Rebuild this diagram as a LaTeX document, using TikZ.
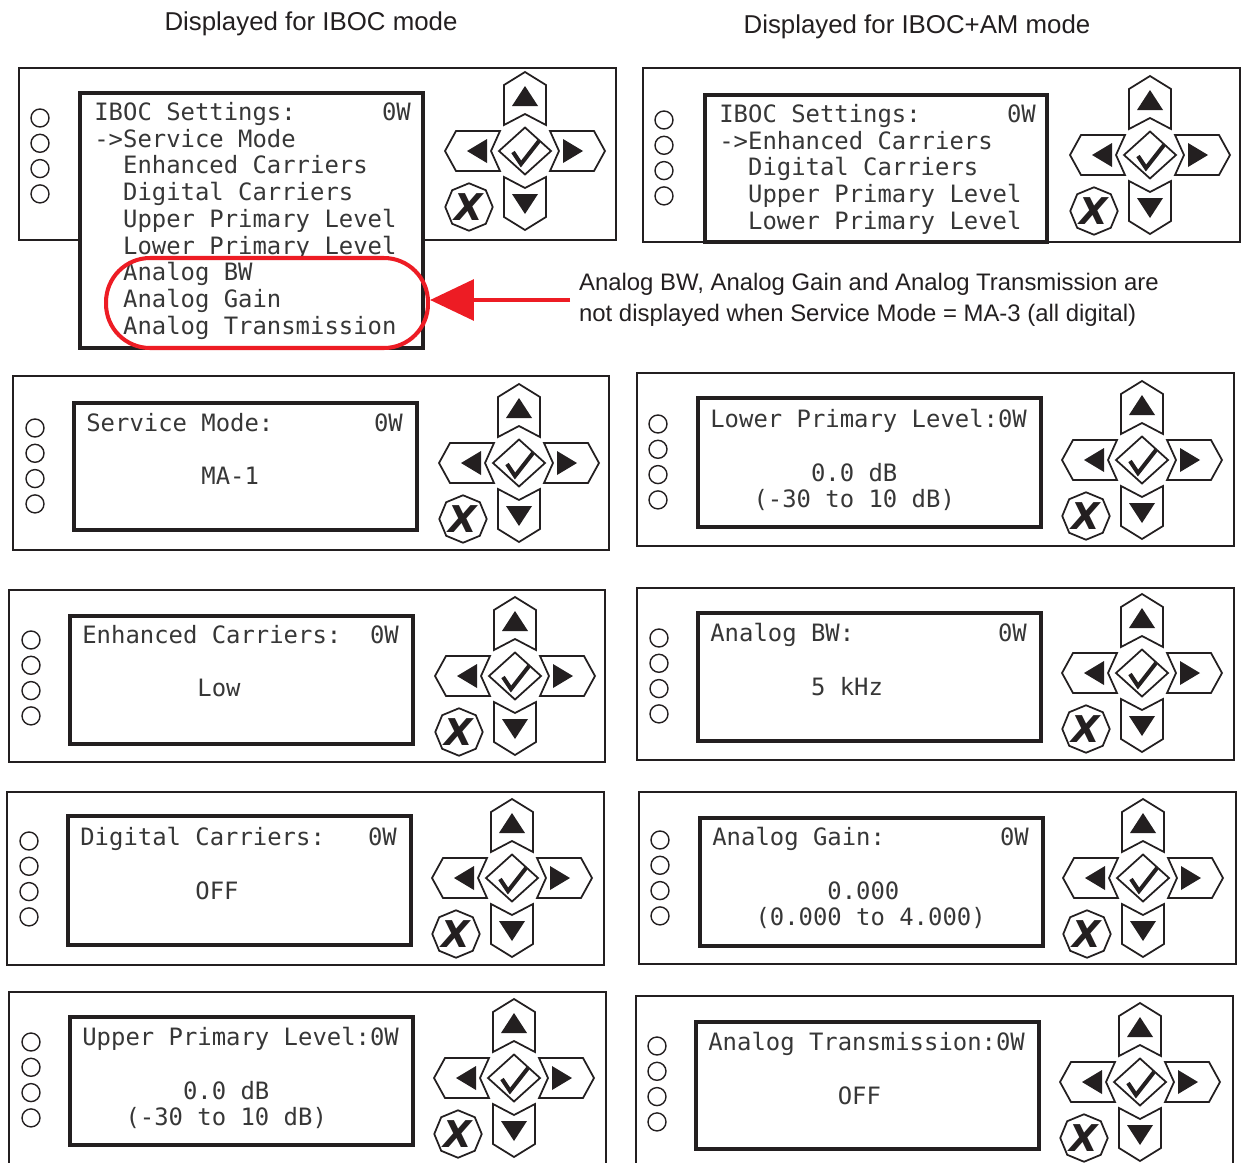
\documentclass[tikz,border=0pt]{standalone}
\usepackage{fontspec}
\setmainfont{Liberation Sans}
\newfontfamily\lcdfont{DejaVu Sans Mono}
\newfontfamily\keyfont{DejaVu Sans}
\usepackage{xcolor}
\usetikzlibrary{arrows.meta,positioning,shapes.geometric}

\definecolor{framegray}{RGB}{35,31,32}
\definecolor{lcdgray}{RGB}{55,55,55}
\definecolor{alertred}{RGB}{237,28,36}

\begin{document}
\begin{tikzpicture}[x=0.02cm, y=-0.02cm,
  panel/.style={draw=framegray, line width=1.6pt},
  lcd/.style={draw=framegray, line width=1.8pt, fill=white},
  led/.style={draw=framegray, line width=0.8pt},
  lcdtext/.style={anchor=north west, inner sep=0pt, align=left, text=lcdgray,
                  font=\lcdfont\fontsize{13.6}{15.2}\selectfont},
  heading/.style={text=framegray, font=\fontsize{14.7}{17}\selectfont},
  note/.style={anchor=west, align=left, inner sep=5pt, text=framegray,
               font=\fontsize{13.6}{18}\selectfont},
  hideoval/.style={draw=alertred, line width=2.3pt, rounded corners=0.88cm,
                   minimum width=6.44cm, minimum height=1.8cm},
  alertarrow/.style={draw=alertred, line width=2.8pt,
                     -{Triangle[length=25pt, width=23pt]}},
  keybtn/.style={draw=framegray, line width=1pt, fill=white, line join=miter},
  keytri/.style={fill=framegray},
  okcheck/.style={draw=framegray, line width=2.3pt},
  cancelkey/.style={draw=framegray, line width=1pt, regular polygon,
                    regular polygon sides=8, shape border rotate=22.5,
                    minimum size=0.95cm, inner sep=0pt, text=framegray,
                    font=\keyfont\bfseries\itshape\fontsize{21}{21}\selectfont},
  keypad/.pic={
    % arrow keys
    \draw[keybtn] (0,-79) -- (21,-66) -- (21,-26) -- (0,-37) -- (-21,-26) -- (-21,-66) -- cycle;
    \fill[keytri] (0,-65) -- (13,-45) -- (-13,-45) -- cycle;
    \draw[keybtn] (0,79) -- (21,66) -- (21,26) -- (0,37) -- (-21,26) -- (-21,66) -- cycle;
    \fill[keytri] (0,63) -- (13,43) -- (-13,43) -- cycle;
    \draw[keybtn] (-80,0) -- (-69,-20) -- (-25,-20) -- (-34,0) -- (-25,20) -- (-69,20) -- cycle;
    \fill[keytri] (-58,0) -- (-38,-12) -- (-38,12) -- cycle;
    \draw[keybtn] (80,0) -- (69,-20) -- (25,-20) -- (34,0) -- (25,20) -- (69,20) -- cycle;
    \fill[keytri] (58,0) -- (38,-12) -- (38,12) -- cycle;
    % enter and cancel
    \draw[keybtn] (-26,0) -- (0,-23.5) -- (26,0) -- (0,23.5) -- cycle;
    \draw[okcheck] (-12,1) -- (-4,13) -- (14,-10);
    \node[cancelkey] (-x) at (-56,56) {X};
  }
]
  \useasboundingbox (0,0) rectangle (1241,1163);
  \clip (0,0) rectangle (1241,1163);

  % headings
  \node[heading] (headA) at (311,24) {Displayed for IBOC mode};
  \node[heading] (headB) at (917,27) {Displayed for IBOC+AM mode};

  % front panels
  \draw[panel] (19,68) rectangle (616,240);
  \draw[panel] (643,68) rectangle (1240,242);
  \draw[panel] (13,376) rectangle (609,550);
  \draw[panel] (637,373) rectangle (1234,546);
  \draw[panel] (9,590) rectangle (605,762);
  \draw[panel] (637,588) rectangle (1234,760);
  \draw[panel] (7,792) rectangle (604,965);
  \draw[panel] (639,792) rectangle (1236,964);
  \draw[panel] (9,992) rectangle (606,1180);
  \draw[panel] (636,996) rectangle (1233,1180);

  % status leds
  \foreach \lx/\ly in {40/118, 664/120, 35/428, 658/424, 31/640, 659/638,
                       29/841, 660/840, 31/1042, 657/1046}
    \foreach \k in {0,...,3}
      \draw[led] (\lx,\ly+25.3*\k) circle (9);

  % displays
  \draw[lcd] (80,93) rectangle (423,348);
  \draw[lcd] (705,95) rectangle (1047,242);
  \draw[lcd] (74,403) rectangle (417,530);
  \draw[lcd] (698,398) rectangle (1041,527);
  \draw[lcd] (70,616) rectangle (413,744);
  \draw[lcd] (698,613) rectangle (1041,741);
  \draw[lcd] (68,816) rectangle (411,945);
  \draw[lcd] (700,818) rectangle (1043,946);
  \draw[lcd] (70,1017) rectangle (413,1145);
  \draw[lcd] (696,1022) rectangle (1039,1149);

  \node[lcdtext] (txtA) at (94,102) {IBOC Settings:~~~~~~0W\\->Service Mode\\~~Enhanced Carriers\\~~Digital Carriers\\~~Upper Primary Level\\~~Lower Primary Level\\~~Analog BW\\~~Analog Gain\\~~Analog Transmission};
  \node[lcdtext] (txtB) at (719,104) {IBOC Settings:~~~~~~0W\\->Enhanced Carriers\\~~Digital Carriers\\~~Upper Primary Level\\~~Lower Primary Level};
  \node[lcdtext] (txtC) at (86,413) {Service Mode:~~~~~~~0W\\~\\~~~~~~~~MA-1};
  \node[lcdtext] (txtD) at (710,409) {Lower Primary Level:0W\\~\\~~~~~~~0.0 dB\\~~~(-30 to 10 dB)};
  \node[lcdtext] (txtE) at (82,625) {Enhanced Carriers:~~0W\\~\\~~~~~~~~Low};
  \node[lcdtext] (txtF) at (710,623) {Analog BW:~~~~~~~~~~0W\\~\\~~~~~~~5 kHz};
  \node[lcdtext] (txtG) at (80,827) {Digital Carriers:~~~0W\\~\\~~~~~~~~OFF};
  \node[lcdtext] (txtH) at (712,827) {Analog Gain:~~~~~~~~0W\\~\\~~~~~~~~0.000\\~~~(0.000 to 4.000)};
  \node[lcdtext] (txtI) at (82,1027) {Upper Primary Level:0W\\~\\~~~~~~~0.0 dB\\~~~(-30 to 10 dB)};
  \node[lcdtext] (txtJ) at (708,1032) {Analog Transmission:0W\\~\\~~~~~~~~~OFF};

  % keypads
  \pic (kA) at (525,151) {keypad};
  \pic (kB) at (1150,155) {keypad};
  \pic (kC) at (519,463) {keypad};
  \pic (kD) at (1142,460) {keypad};
  \pic (kE) at (515,676) {keypad};
  \pic (kF) at (1142,673) {keypad};
  \pic (kG) at (512,878) {keypad};
  \pic (kH) at (1143,878) {keypad};
  \pic (kI) at (514,1078) {keypad};
  \pic (kJ) at (1140,1082) {keypad};

  % analog items note
  \node[hideoval] (oval) at (267,303) {};
  \node[note] (note) at (570,300)
    {Analog BW, Analog Gain and Analog Transmission are\\
     not displayed when Service Mode = MA-3 (all digital)};
  \draw[alertarrow] (note.west) -- (note.west -| oval.east);
\end{tikzpicture}
\end{document}
